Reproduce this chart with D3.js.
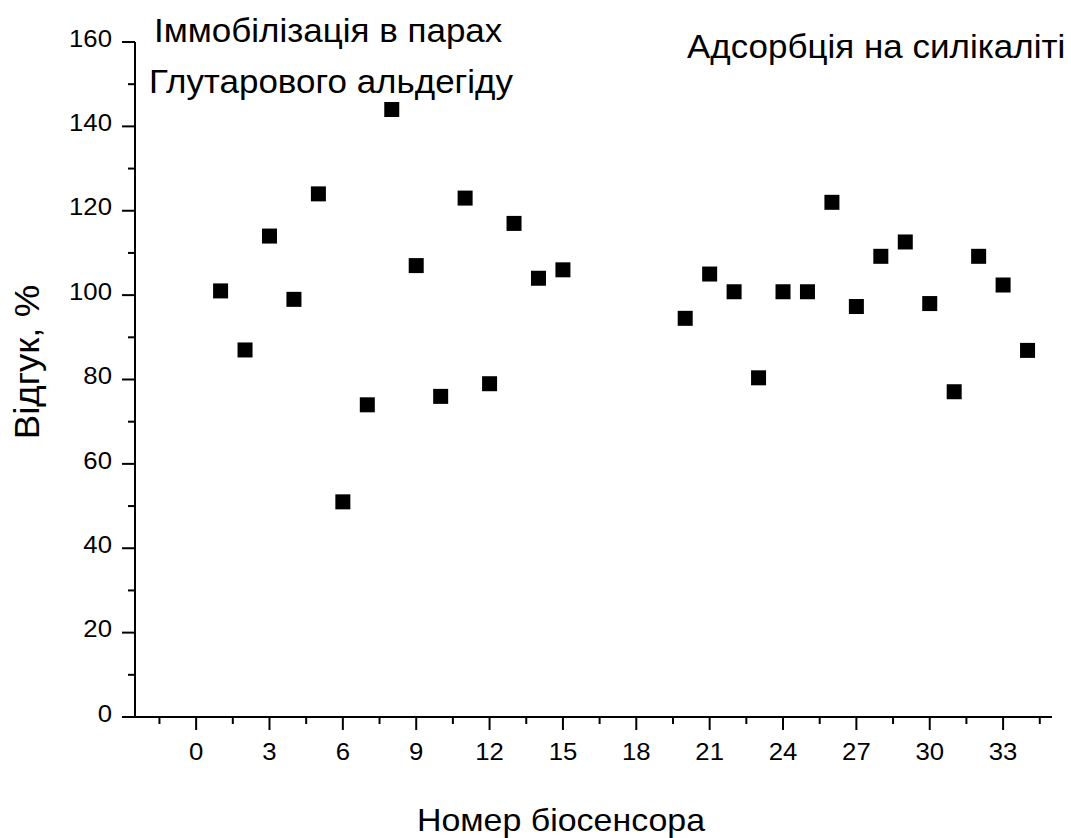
<!DOCTYPE html>
<html>
<head>
<meta charset="utf-8">
<script src="https://cdn.jsdelivr.net/npm/d3@7"></script>
<style>
  html, body { margin: 0; padding: 0; background: #fff; }
  svg { display: block; font-family: "Liberation Sans", Arial, sans-serif; }
</style>
</head>
<body>
<svg id="chart" width="1071" height="838"></svg>
<script>
// Sensor numbers and their responses (%)
const sensorNumbers = [1, 2, 3, 4, 5, 6, 7, 8, 9, 10, 11, 12, 13, 14, 15,
                       20, 21, 22, 23, 24, 25, 26, 27, 28, 29, 30, 31, 32, 33, 34];
const responses = [101, 87, 114, 99, 124, 51, 74, 144, 107, 76, 123, 79, 117, 104, 106,
                   94.5, 105, 100.8, 80.4, 100.8, 100.8, 122, 97.3, 109.2, 112.6, 98, 77.1, 109.2, 102.4, 86.9];

const xTicks = [0, 3, 6, 9, 12, 15, 18, 21, 24, 27, 30, 33];
const yTicks = [0, 20, 40, 60, 80, 100, 120, 140, 160];

const xLabel = "Номер біосенсора";
const yLabel = "Відгук, %";
const groupLabels = ["Іммобілізація в парах", "Глутарового альдегіду", "Адсорбція на силікаліті"];

const svg = d3.select("#chart");
const margin = { left: 135, right: 1071 - 1052, top: 42, bottom: 838 - 717 };

const x = d3.scaleLinear().domain([-2.5, 35]).range([margin.left, 1071 - margin.right]);
const y = d3.scaleLinear().domain([0, 160]).range([838 - margin.bottom, margin.top]);

const ink = "#000";
const tickFont = 24.3;
const stretch = 1.06; // glyphs are a touch wider than regular Arial

// text helper: places a label with a slight horizontal stretch
function label(g, tx, ty, str, size, anchor, rotate) {
  return g.append("text")
    .attr("transform", `translate(${tx},${ty})` + (rotate ? ` rotate(${rotate})` : "") + ` scale(${stretch},1)`)
    .attr("text-anchor", anchor || "start")
    .attr("font-size", size)
    .attr("fill", ink)
    .text(str);
}

// X axis: major ticks every 3, minor ticks halfway between
const xMinor = d3.range(-1.5, 35, 3);
const xAxis = svg.append("g").attr("transform", `translate(0,${y(0)})`);
xAxis.append("line")
  .attr("x1", x(-2.5) - 13).attr("x2", x(35))
  .attr("stroke", ink).attr("stroke-width", 2);
xAxis.selectAll("line.major").data(xTicks).join("line")
  .attr("class", "major")
  .attr("x1", d => x(d)).attr("x2", d => x(d))
  .attr("y1", 0).attr("y2", 13)
  .attr("stroke", ink).attr("stroke-width", 2);
xAxis.selectAll("line.minor").data(xMinor).join("line")
  .attr("class", "minor")
  .attr("x1", d => x(d)).attr("x2", d => x(d))
  .attr("y1", 0).attr("y2", 7)
  .attr("stroke", ink).attr("stroke-width", 2);
xTicks.forEach(d => label(xAxis, x(d), 43, d, tickFont, "middle"));

// Y axis: major ticks every 20, minor ticks every 10
const yMinor = d3.range(10, 160, 20);
const yAxis = svg.append("g").attr("transform", `translate(${x(-2.5)},0)`);
yAxis.append("line")
  .attr("y1", y(0)).attr("y2", y(160))
  .attr("stroke", ink).attr("stroke-width", 2);
yAxis.selectAll("line.major").data(yTicks).join("line")
  .attr("class", "major")
  .attr("y1", d => y(d)).attr("y2", d => y(d))
  .attr("x1", 0).attr("x2", -13)
  .attr("stroke", ink).attr("stroke-width", 2);
yAxis.selectAll("line.minor").data(yMinor).join("line")
  .attr("class", "minor")
  .attr("y1", d => y(d)).attr("y2", d => y(d))
  .attr("x1", 0).attr("x2", -7)
  .attr("stroke", ink).attr("stroke-width", 2);
yTicks.forEach(d => label(yAxis, -23, y(d) + 4.7, d, tickFont, "end"));

// Square markers
const size = 15;
svg.append("g").selectAll("rect").data(sensorNumbers).join("rect")
  .attr("x", d => x(d) - size / 2)
  .attr("y", (d, i) => y(responses[i]) - size / 2)
  .attr("width", size).attr("height", size)
  .attr("fill", ink);

// Axis titles
label(svg, 561, 831, xLabel, 32, "middle");
label(svg, 39, 362, yLabel, 34.5, "middle", -90);

// Group annotations
label(svg, 154, 42, groupLabels[0], 33, "start");
label(svg, 149, 93, groupLabels[1], 33, "start");
label(svg, 687, 58, groupLabels[2], 33, "start");
</script>
</body>
</html>
